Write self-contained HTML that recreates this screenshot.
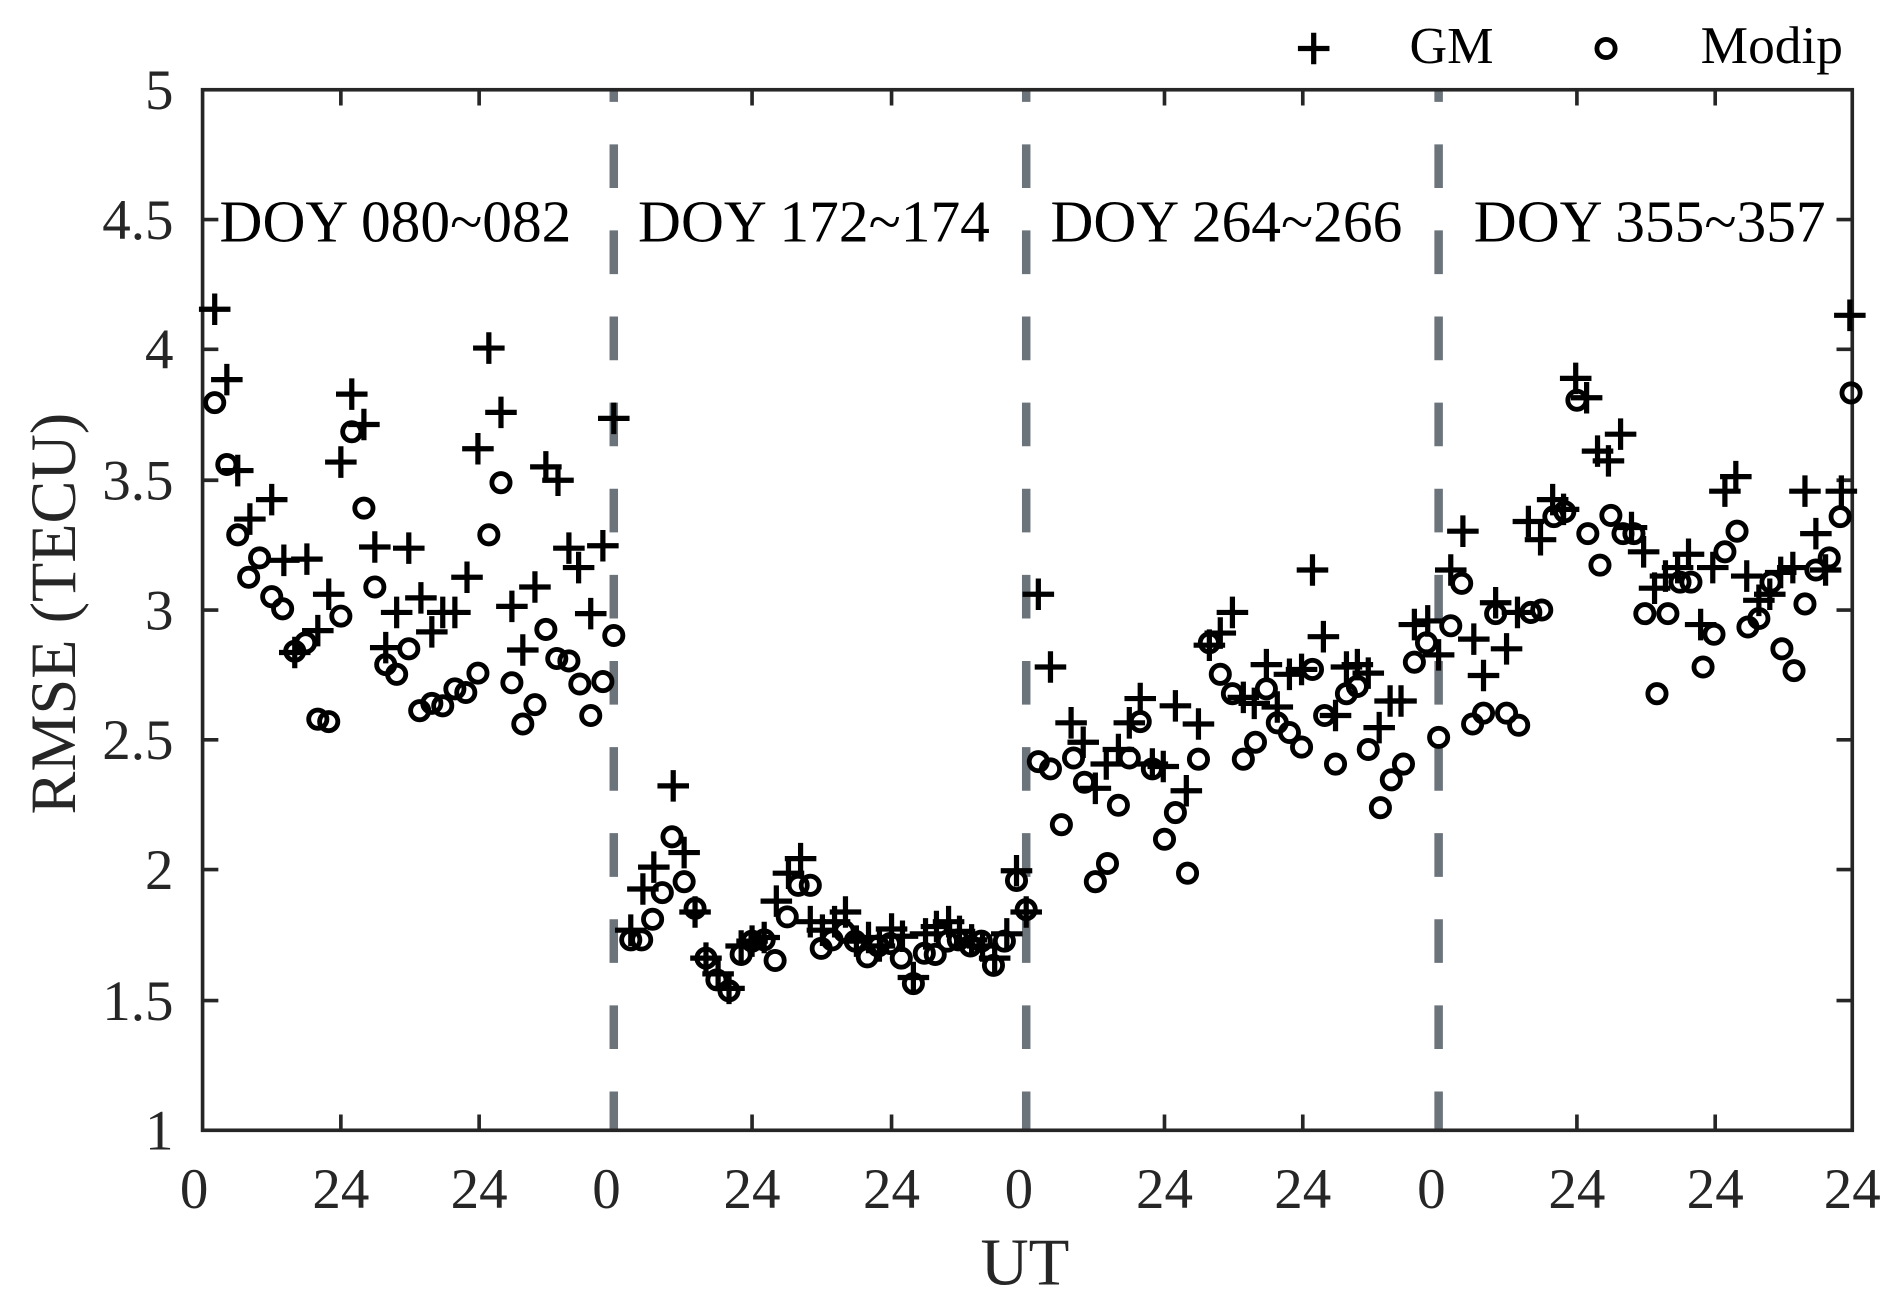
<!DOCTYPE html>
<html><head><meta charset="utf-8"><style>
html,body{margin:0;padding:0;background:#fff;width:1902px;height:1311px;overflow:hidden}
svg{display:block}
text{font-family:"Liberation Serif",serif;fill:#262626}
</style></head><body>
<svg width="1902" height="1311" viewBox="0 0 1568 1081" preserveAspectRatio="none" xmlns="http://www.w3.org/2000/svg">
<defs>
<path id="p" d="M-13 0H13M0 -13V13" stroke="#000" stroke-width="4.3" fill="none"/>
<circle id="c" r="7.5" stroke="#000" stroke-width="4" fill="none"/>
</defs>
<g stroke="#6b737b" stroke-width="7" stroke-dasharray="36 35" stroke-dashoffset="26">
<line x1="506" y1="74" x2="506" y2="932"/><line x1="846" y1="74" x2="846" y2="932"/><line x1="1186" y1="74" x2="1186" y2="932"/>
</g>
<g stroke="#262626" stroke-width="3" fill="none">
<rect x="167" y="74" width="1360" height="858"/>
<path d="M281 74v13M395 74v13M620 74v13M735 74v13M960 74v13M1074 74v13M1300 74v13M1414 74v13
M281 932v-13M395 932v-13M620 932v-13M735 932v-13M960 932v-13M1074 932v-13M1300 932v-13M1414 932v-13
M167 181h13M167 288h13M167 396h13M167 503h13M167 610h13M167 717h13M167 825h13
M1527 181h-13M1527 288h-13M1527 396h-13M1527 503h-13M1527 610h-13M1527 717h-13M1527 825h-13"/>
</g>
<g font-size="47" text-anchor="end">
<text x="143" y="90">5</text><text x="143" y="197">4.5</text><text x="143" y="304">4</text><text x="143" y="412">3.5</text><text x="143" y="519">3</text><text x="143" y="626">2.5</text><text x="143" y="733">2</text><text x="143" y="841">1.5</text><text x="143" y="948">1</text>
</g>
<g font-size="47" text-anchor="middle">
<text x="160" y="996">0</text><text x="281" y="996">24</text><text x="395" y="996">24</text><text x="500" y="996">0</text><text x="620" y="996">24</text><text x="735" y="996">24</text><text x="840" y="996">0</text><text x="960" y="996">24</text><text x="1074" y="996">24</text><text x="1180" y="996">0</text><text x="1300" y="996">24</text><text x="1414" y="996">24</text><text x="1527" y="996">24</text>
<text x="845" y="1059" font-size="55">UT</text>
<text transform="translate(62 506) rotate(-90)" font-size="53">RMSE (TECU)</text>
</g>
<g font-size="49">
<text x="181" y="199" style="fill:#000">DOY 080~082</text>
<text x="526" y="199" style="fill:#000">DOY 172~174</text>
<text x="866" y="199" style="fill:#000">DOY 264~266</text>
<text x="1215" y="199" style="fill:#000">DOY 355~357</text>
<text x="1162" y="52" font-size="43" style="fill:#000">GM</text>
<text x="1402" y="52" font-size="44" style="fill:#000">Modip</text>
</g>
<use href="#p" x="1083" y="40"/><use href="#c" x="1324" y="40"/>
<g id="gm">
<use href="#p" x="177" y="255"/><use href="#p" x="187" y="313"/><use href="#p" x="196" y="388"/><use href="#p" x="206" y="428"/><use href="#p" x="224" y="412"/><use href="#p" x="234" y="462"/><use href="#p" x="253" y="461"/><use href="#p" x="262" y="520"/><use href="#p" x="243" y="538"/><use href="#p" x="271" y="490"/><use href="#p" x="281" y="381"/><use href="#p" x="290" y="325"/><use href="#p" x="300" y="350"/><use href="#p" x="309" y="451"/><use href="#p" x="318" y="534"/><use href="#p" x="327" y="505"/><use href="#p" x="337" y="452"/><use href="#p" x="347" y="493"/><use href="#p" x="356" y="521"/><use href="#p" x="365" y="505"/><use href="#p" x="375" y="505"/><use href="#p" x="385" y="476"/><use href="#p" x="394" y="370"/><use href="#p" x="403" y="287"/><use href="#p" x="413" y="340"/><use href="#p" x="422" y="500"/><use href="#p" x="431" y="536"/><use href="#p" x="441" y="484"/><use href="#p" x="450" y="385"/><use href="#p" x="460" y="396"/><use href="#p" x="469" y="452"/><use href="#p" x="477" y="468"/><use href="#p" x="487" y="506"/><use href="#p" x="497" y="450"/><use href="#p" x="506" y="345"/>
<use href="#p" x="520" y="767"/><use href="#p" x="530" y="733"/><use href="#p" x="539" y="715"/><use href="#p" x="555" y="648"/><use href="#p" x="564" y="703"/><use href="#p" x="573" y="752"/><use href="#p" x="582" y="790"/><use href="#p" x="592" y="803"/><use href="#p" x="601" y="815"/><use href="#p" x="611" y="780"/><use href="#p" x="620" y="776"/><use href="#p" x="630" y="773"/><use href="#p" x="640" y="743"/><use href="#p" x="650" y="720"/><use href="#p" x="660" y="708"/><use href="#p" x="668" y="760"/><use href="#p" x="678" y="767"/><use href="#p" x="688" y="760"/><use href="#p" x="697" y="752"/><use href="#p" x="706" y="776"/><use href="#p" x="716" y="773"/><use href="#p" x="725" y="780"/><use href="#p" x="735" y="766"/><use href="#p" x="744" y="772"/><use href="#p" x="753" y="806"/><use href="#p" x="763" y="770"/><use href="#p" x="772" y="764"/><use href="#p" x="782" y="760"/><use href="#p" x="791" y="768"/><use href="#p" x="801" y="775"/><use href="#p" x="810" y="780"/><use href="#p" x="820" y="790"/><use href="#p" x="830" y="770"/><use href="#p" x="838" y="718"/><use href="#p" x="846" y="752"/>
<use href="#p" x="856" y="490"/><use href="#p" x="866" y="550"/><use href="#p" x="883" y="596"/><use href="#p" x="893" y="612"/><use href="#p" x="903" y="650"/><use href="#p" x="912" y="630"/><use href="#p" x="922" y="618"/><use href="#p" x="931" y="596"/><use href="#p" x="940" y="576"/><use href="#p" x="950" y="630"/><use href="#p" x="959" y="632"/><use href="#p" x="969" y="582"/><use href="#p" x="978" y="652"/><use href="#p" x="988" y="597"/><use href="#p" x="997" y="532"/><use href="#p" x="1006" y="522"/><use href="#p" x="1016" y="505"/><use href="#p" x="1025" y="575"/><use href="#p" x="1034" y="580"/><use href="#p" x="1044" y="548"/><use href="#p" x="1053" y="583"/><use href="#p" x="1063" y="556"/><use href="#p" x="1073" y="552"/><use href="#p" x="1082" y="470"/><use href="#p" x="1091" y="525"/><use href="#p" x="1101" y="590"/><use href="#p" x="1110" y="550"/><use href="#p" x="1119" y="548"/><use href="#p" x="1128" y="555"/><use href="#p" x="1137" y="600"/><use href="#p" x="1146" y="578"/><use href="#p" x="1155" y="578"/><use href="#p" x="1166" y="515"/><use href="#p" x="1177" y="512"/><use href="#p" x="1186" y="540"/>
<use href="#p" x="1196" y="470"/><use href="#p" x="1206" y="438"/><use href="#p" x="1215" y="527"/><use href="#p" x="1223" y="557"/><use href="#p" x="1233" y="497"/><use href="#p" x="1242" y="535"/><use href="#p" x="1251" y="505"/><use href="#p" x="1260" y="430"/><use href="#p" x="1270" y="445"/><use href="#p" x="1280" y="412"/><use href="#p" x="1289" y="420"/><use href="#p" x="1299" y="312"/><use href="#p" x="1308" y="328"/><use href="#p" x="1317" y="372"/><use href="#p" x="1326" y="380"/><use href="#p" x="1336" y="358"/><use href="#p" x="1345" y="435"/><use href="#p" x="1355" y="455"/><use href="#p" x="1364" y="485"/><use href="#p" x="1373" y="475"/><use href="#p" x="1383" y="468"/><use href="#p" x="1392" y="457"/><use href="#p" x="1402" y="515"/><use href="#p" x="1412" y="468"/><use href="#p" x="1422" y="405"/><use href="#p" x="1431" y="393"/><use href="#p" x="1440" y="475"/><use href="#p" x="1450" y="495"/><use href="#p" x="1459" y="490"/><use href="#p" x="1468" y="472"/><use href="#p" x="1478" y="468"/><use href="#p" x="1488" y="405"/><use href="#p" x="1497" y="440"/><use href="#p" x="1505" y="470"/><use href="#p" x="1518" y="405"/><use href="#p" x="1525" y="260"/>
</g>
<g id="md">
<use href="#c" x="177" y="332"/><use href="#c" x="187" y="383"/><use href="#c" x="196" y="441"/><use href="#c" x="205" y="476"/><use href="#c" x="214" y="460"/><use href="#c" x="224" y="492"/><use href="#c" x="233" y="502"/><use href="#c" x="243" y="537"/><use href="#c" x="252" y="530"/><use href="#c" x="262" y="593"/><use href="#c" x="271" y="595"/><use href="#c" x="281" y="508"/><use href="#c" x="290" y="356"/><use href="#c" x="300" y="419"/><use href="#c" x="309" y="484"/><use href="#c" x="318" y="548"/><use href="#c" x="327" y="556"/><use href="#c" x="337" y="535"/><use href="#c" x="346" y="586"/><use href="#c" x="356" y="580"/><use href="#c" x="365" y="582"/><use href="#c" x="375" y="568"/><use href="#c" x="384" y="571"/><use href="#c" x="394" y="555"/><use href="#c" x="403" y="441"/><use href="#c" x="413" y="398"/><use href="#c" x="422" y="563"/><use href="#c" x="431" y="597"/><use href="#c" x="441" y="581"/><use href="#c" x="450" y="519"/><use href="#c" x="459" y="543"/><use href="#c" x="469" y="545"/><use href="#c" x="478" y="564"/><use href="#c" x="487" y="590"/><use href="#c" x="497" y="562"/><use href="#c" x="506" y="524"/>
<use href="#c" x="520" y="775"/><use href="#c" x="529" y="775"/><use href="#c" x="538" y="758"/><use href="#c" x="546" y="736"/><use href="#c" x="554" y="690"/><use href="#c" x="564" y="727"/><use href="#c" x="573" y="749"/><use href="#c" x="582" y="790"/><use href="#c" x="591" y="808"/><use href="#c" x="601" y="817"/><use href="#c" x="611" y="787"/><use href="#c" x="620" y="776"/><use href="#c" x="630" y="775"/><use href="#c" x="639" y="792"/><use href="#c" x="649" y="756"/><use href="#c" x="658" y="730"/><use href="#c" x="668" y="730"/><use href="#c" x="677" y="782"/><use href="#c" x="686" y="775"/><use href="#c" x="696" y="768"/><use href="#c" x="705" y="776"/><use href="#c" x="715" y="789"/><use href="#c" x="724" y="780"/><use href="#c" x="734" y="778"/><use href="#c" x="743" y="790"/><use href="#c" x="753" y="811"/><use href="#c" x="762" y="786"/><use href="#c" x="771" y="787"/><use href="#c" x="781" y="776"/><use href="#c" x="790" y="775"/><use href="#c" x="800" y="780"/><use href="#c" x="809" y="776"/><use href="#c" x="819" y="796"/><use href="#c" x="828" y="776"/><use href="#c" x="838" y="726"/><use href="#c" x="846" y="750"/>
<use href="#c" x="856" y="628"/><use href="#c" x="866" y="634"/><use href="#c" x="875" y="680"/><use href="#c" x="885" y="625"/><use href="#c" x="894" y="645"/><use href="#c" x="903" y="727"/><use href="#c" x="913" y="712"/><use href="#c" x="922" y="664"/><use href="#c" x="931" y="625"/><use href="#c" x="940" y="595"/><use href="#c" x="950" y="634"/><use href="#c" x="960" y="692"/><use href="#c" x="969" y="670"/><use href="#c" x="979" y="720"/><use href="#c" x="988" y="626"/><use href="#c" x="997" y="530"/><use href="#c" x="1006" y="556"/><use href="#c" x="1016" y="572"/><use href="#c" x="1025" y="626"/><use href="#c" x="1035" y="612"/><use href="#c" x="1044" y="568"/><use href="#c" x="1053" y="596"/><use href="#c" x="1063" y="604"/><use href="#c" x="1073" y="616"/><use href="#c" x="1082" y="552"/><use href="#c" x="1092" y="590"/><use href="#c" x="1101" y="630"/><use href="#c" x="1110" y="572"/><use href="#c" x="1119" y="566"/><use href="#c" x="1128" y="618"/><use href="#c" x="1138" y="666"/><use href="#c" x="1147" y="643"/><use href="#c" x="1157" y="630"/><use href="#c" x="1166" y="546"/><use href="#c" x="1176" y="530"/><use href="#c" x="1186" y="608"/>
<use href="#c" x="1196" y="516"/><use href="#c" x="1205" y="481"/><use href="#c" x="1214" y="597"/><use href="#c" x="1223" y="588"/><use href="#c" x="1233" y="506"/><use href="#c" x="1242" y="588"/><use href="#c" x="1252" y="598"/><use href="#c" x="1262" y="505"/><use href="#c" x="1271" y="503"/><use href="#c" x="1281" y="426"/><use href="#c" x="1290" y="422"/><use href="#c" x="1300" y="330"/><use href="#c" x="1309" y="440"/><use href="#c" x="1319" y="466"/><use href="#c" x="1328" y="425"/><use href="#c" x="1338" y="440"/><use href="#c" x="1347" y="440"/><use href="#c" x="1356" y="506"/><use href="#c" x="1366" y="572"/><use href="#c" x="1375" y="506"/><use href="#c" x="1385" y="480"/><use href="#c" x="1394" y="480"/><use href="#c" x="1404" y="550"/><use href="#c" x="1413" y="523"/><use href="#c" x="1422" y="455"/><use href="#c" x="1432" y="438"/><use href="#c" x="1441" y="517"/><use href="#c" x="1450" y="510"/><use href="#c" x="1460" y="480"/><use href="#c" x="1469" y="535"/><use href="#c" x="1479" y="553"/><use href="#c" x="1488" y="498"/><use href="#c" x="1497" y="470"/><use href="#c" x="1508" y="460"/><use href="#c" x="1517" y="426"/><use href="#c" x="1526" y="324"/>
</g>
</svg>
</body></html>
